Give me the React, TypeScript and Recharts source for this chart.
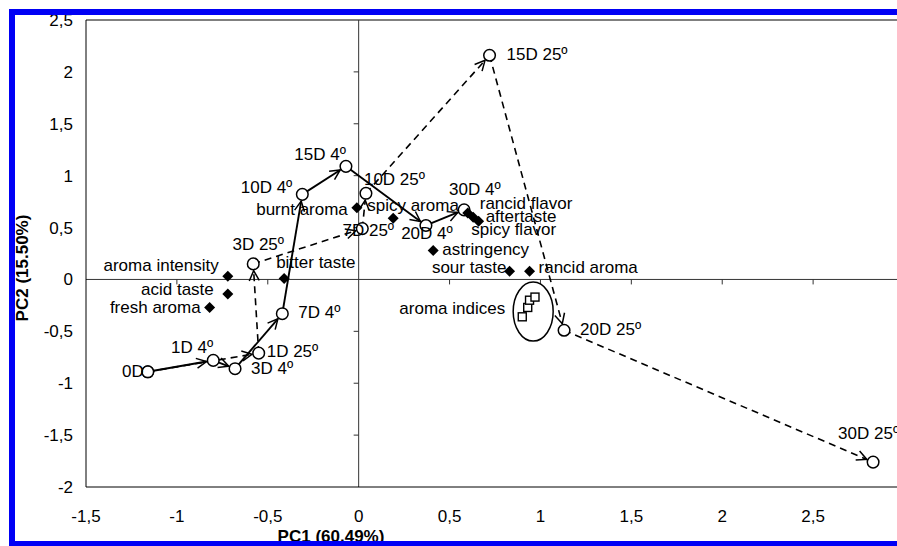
import { ScatterChart, Scatter, XAxis, YAxis, ReferenceLine, Label } from 'recharts';

const FONT = '"Liberation Sans", Arial, Helvetica, sans-serif';

const X_TICKS = [-1.5, -1, -0.5, 0, 0.5, 1, 1.5, 2, 2.5];
const Y_TICKS = [-2, -1.5, -1, -0.5, 0, 0.5, 1, 1.5, 2, 2.5];

// samples stored at 4º (solid path)
const SAMPLES_4 = [
  { name: '0D', x: -1.16, y: -0.89 },
  { name: '1D 4º', x: -0.8, y: -0.78 },
  { name: '3D 4º', x: -0.68, y: -0.86 },
  { name: '7D 4º', x: -0.42, y: -0.33 },
  { name: '10D 4º', x: -0.31, y: 0.82 },
  { name: '15D 4º', x: -0.07, y: 1.09 },
  { name: '20D 4º', x: 0.37, y: 0.52 },
  { name: '30D 4º', x: 0.58, y: 0.67 },
];

// samples stored at 25º (dashed path)
const SAMPLES_25 = [
  { name: '0D', x: -1.16, y: -0.89 },
  { name: '1D 25º', x: -0.55, y: -0.71 },
  { name: '3D 25º', x: -0.58, y: 0.15 },
  { name: '7D 25º', x: 0.02, y: 0.49 },
  { name: '10D 25º', x: 0.04, y: 0.83 },
  { name: '15D 25º', x: 0.72, y: 2.16 },
  { name: '20D 25º', x: 1.13, y: -0.49 },
  { name: '30D 25º', x: 2.83, y: -1.76 },
];

const ATTRIBUTES = [
  { name: 'aroma intensity', x: -0.72, y: 0.03 },
  { name: 'acid taste', x: -0.72, y: -0.14 },
  { name: 'fresh aroma', x: -0.82, y: -0.27 },
  { name: 'bitter taste', x: -0.41, y: 0.01 },
  { name: 'burnt aroma', x: -0.01, y: 0.69 },
  { name: 'spicy aroma', x: 0.19, y: 0.59 },
  { name: 'astringency', x: 0.41, y: 0.28 },
  { name: 'sour taste', x: 0.83, y: 0.08 },
  { name: 'rancid aroma', x: 0.94, y: 0.08 },
  { name: 'rancid flavor', x: 0.6, y: 0.64 },
  { name: 'spicy flavor', x: 0.63, y: 0.6 },
  { name: 'aftertaste', x: 0.66, y: 0.56 },
];

const AROMA_INDICES = [
  { name: 'ai1', x: 0.9, y: -0.36 },
  { name: 'ai2', x: 0.93, y: -0.27 },
  { name: 'ai3', x: 0.94, y: -0.2 },
  { name: 'ai4', x: 0.97, y: -0.17 },
];

const AROMA_GROUP = [{ name: 'aroma indices', x: 0.96, y: -0.31 }];

// label placement relative to the marker: [dx, dy, anchor]
const LABEL_POS: Record<string, [number, number, 'start' | 'middle' | 'end']> = {
  '0D': [-4, 5, 'end'],
  '1D 4º': [0, -7, 'end'],
  '3D 4º': [16, 5, 'start'],
  '1D 25º': [8, 4, 'start'],
  '7D 4º': [16, 4, 'start'],
  '3D 25º': [5, -14, 'middle'],
  '10D 4º': [-10, -1, 'end'],
  '15D 4º': [0, -6, 'end'],
  '10D 25º': [-2, -8, 'start'],
  '7D 25º': [6, 7, 'middle'],
  '20D 4º': [1, 14, 'middle'],
  '30D 4º': [-15, -15, 'start'],
  '15D 25º': [17, 5, 'start'],
  '20D 25º': [16, 5, 'start'],
  '30D 25º': [-35, -23, 'start'],
  'aroma intensity': [-9, -5, 'end'],
  'acid taste': [-14, 1, 'end'],
  'fresh aroma': [-9, 6, 'end'],
  'bitter taste': [-8, -10, 'start'],
  'burnt aroma': [-9, 7, 'end'],
  'spicy aroma': [-26, -7, 'start'],
  'astringency': [9, 5, 'start'],
  'sour taste': [-3, 2, 'end'],
  'rancid aroma': [9, 2, 'start'],
  'rancid flavor': [12, -4, 'start'],
  'spicy flavor': [-2, 18, 'start'],
  'aftertaste': [7, 1, 'start'],
  'aroma indices': [-28, 2, 'end'],
};

const R = 5.8;

function PointLabel({ cx, cy, name }: { cx: number; cy: number; name: string }) {
  const o = LABEL_POS[name];
  if (!o) return null;
  return (
    <text x={cx + o[0]} y={cy + o[1]} textAnchor={o[2]} fontSize={17} fontFamily={FONT} fill="#000">
      {name}
    </text>
  );
}

const sampleShape = (skip: string[]) => (p: any) => (
  <g>
    <circle cx={p.cx} cy={p.cy} r={R} fill="#fff" stroke="#000" strokeWidth={1.5} />
    {!skip.includes(p.payload.name) && <PointLabel cx={p.cx} cy={p.cy} name={p.payload.name} />}
  </g>
);

const diamondShape = (p: any) => (
  <g>
    <path
      d={`M${p.cx},${p.cy - 5.5} L${p.cx + 5.5},${p.cy} L${p.cx},${p.cy + 5.5} L${p.cx - 5.5},${p.cy} Z`}
      fill="#000"
    />
    <PointLabel cx={p.cx} cy={p.cy} name={p.payload.name} />
  </g>
);

const squareShape = (p: any) => (
  <rect x={p.cx - 4} y={p.cy - 4} width={8} height={8} fill="#fff" stroke="#000" strokeWidth={1.4} />
);

const ellipseShape = (p: any) => (
  <g>
    <ellipse cx={p.cx} cy={p.cy} rx={20} ry={29.5} fill="none" stroke="#000" strokeWidth={1.5} />
    <PointLabel cx={p.cx} cy={p.cy} name={p.payload.name} />
  </g>
);

function ArrowPath({ points, dashed }: { points?: { x: number; y: number }[]; dashed?: boolean }) {
  if (!points || points.length < 2) return null;
  const parts = [];
  for (let i = 1; i < points.length; i++) {
    const a = points[i - 1];
    const b = points[i];
    const dx = b.x - a.x;
    const dy = b.y - a.y;
    const len = Math.hypot(dx, dy) || 1;
    const ux = dx / len;
    const uy = dy / len;
    const tx = b.x - ux * (R + 1);
    const ty = b.y - uy * (R + 1);
    const bx = tx - ux * 10;
    const by = ty - uy * 10;
    const w = 5;
    parts.push(
      <g key={i}>
        <line
          x1={a.x}
          y1={a.y}
          x2={tx}
          y2={ty}
          stroke="#000"
          strokeWidth={dashed ? 1.6 : 1.9}
          strokeDasharray={dashed ? '7 5' : undefined}
        />
        <polyline
          points={`${bx - uy * w},${by + ux * w} ${tx},${ty} ${bx + uy * w},${by - ux * w}`}
          fill="none"
          stroke="#000"
          strokeWidth={1.5}
        />
      </g>
    );
  }
  return <g>{parts}</g>;
}

const fmt = (v: number) => String(v).replace('.', ',');

export default function App() {
  return (
    <div
      style={{
        position: 'absolute',
        left: 0,
        top: 0,
        width: 897,
        height: 546,
        overflow: 'hidden',
        background: '#fff',
      }}
    >
      <ScatterChart width={920} height={546} margin={{ top: 20, right: 16, bottom: 0, left: 0 }}>
        <XAxis
          type="number"
          dataKey="x"
          domain={[-1.5, 3]}
          ticks={X_TICKS}
          allowDataOverflow
          tickLine={false}
          tickMargin={17}
          axisLine={{ stroke: '#000' }}
          tick={{ fontSize: 17, fill: '#000', fontFamily: FONT }}
          tickFormatter={fmt}
          height={59}
        >
          <Label
            content={() => (
              <text x={331} y={542} textAnchor="middle" fontSize={17} fontWeight="bold" fontFamily={FONT} fill="#000">
                PC1 (60.49%)
              </text>
            )}
          />
        </XAxis>
        <YAxis
          type="number"
          dataKey="y"
          domain={[-2, 2.5]}
          ticks={Y_TICKS}
          allowDataOverflow
          tickLine={false}
          tickMargin={7}
          axisLine={{ stroke: '#000' }}
          tick={{ fontSize: 17, fill: '#000', fontFamily: FONT }}
          tickFormatter={fmt}
          width={86}
        >
          <Label
            content={() => (
              <text
                x={28}
                y={268}
                transform="rotate(-90 28 268)"
                textAnchor="middle"
                fontSize={17}
                fontWeight="bold"
                fontFamily={FONT}
                fill="#000"
              >
                PC2 (15.50%)
              </text>
            )}
          />
        </YAxis>
        <ReferenceLine y={2.5} stroke="#000" />
        <ReferenceLine x={3} stroke="#000" />
        <ReferenceLine x={0} stroke="#333" />
        <ReferenceLine y={0} stroke="#333" />
        {X_TICKS.filter((t) => t !== 0 && t !== -1.5).map((t) => (
          <ReferenceLine
            key={'xt' + t}
            segment={[
              { x: t, y: 0 },
              { x: t, y: -0.048 },
            ]}
            stroke="#333"
          />
        ))}
        {Y_TICKS.filter((t) => t !== 0 && t !== 2.5 && t !== -2).map((t) => (
          <ReferenceLine
            key={'yt' + t}
            segment={[
              { x: 0, y: t },
              { x: -0.0275, y: t },
            ]}
            stroke="#333"
          />
        ))}
        <Scatter
          data={SAMPLES_25}
          isAnimationActive={false}
          line={(p: any) => <ArrowPath points={p.points} dashed />}
          shape={sampleShape(['0D'])}
        />
        <Scatter
          data={SAMPLES_4}
          isAnimationActive={false}
          line={(p: any) => <ArrowPath points={p.points} />}
          shape={sampleShape([])}
        />
        <Scatter data={ATTRIBUTES} isAnimationActive={false} shape={diamondShape} />
        <Scatter data={AROMA_INDICES} isAnimationActive={false} shape={squareShape} />
        <Scatter data={AROMA_GROUP} isAnimationActive={false} shape={ellipseShape} />
      </ScatterChart>
      <div
        style={{
          position: 'absolute',
          left: 9,
          top: 9,
          width: 1000,
          height: 538,
          boxSizing: 'border-box',
          border: '6px solid #0000f5',
          pointerEvents: 'none',
        }}
      />
    </div>
  );
}
